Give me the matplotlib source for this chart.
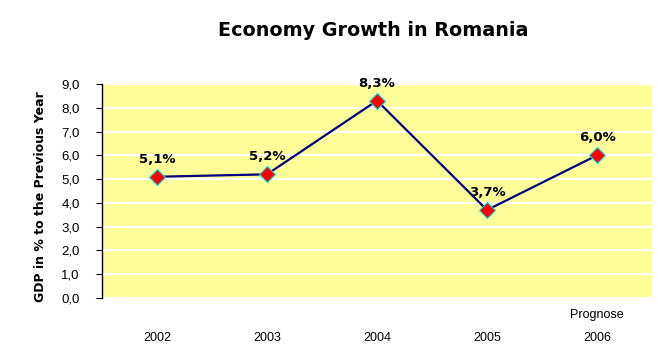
import matplotlib
matplotlib.use("Agg")
import matplotlib.pyplot as plt
from matplotlib.ticker import FuncFormatter

years = ["2002", "2003", "2004", "2005", "2006"]
growth = [5.1, 5.2, 8.3, 3.7, 6.0]
value_labels = ["5,1%", "5,2%", "8,3%", "3,7%", "6,0%"]
top_notes = ["", "", "", "", "Prognose"]
yticks = [0, 1, 2, 3, 4, 5, 6, 7, 8, 9]

fig = plt.figure(figsize=(6.58, 3.63), dpi=100)
ax = fig.add_axes([102/658, 1 - 298/363, 550/658, (298-84)/363])
ax.set_facecolor("#FFFF99")

x = list(range(len(years)))
ax.plot(x, growth, color="#000080", lw=1.6, zorder=3)
ax.plot(x, growth, linestyle="none", marker="D", markersize=8.5,
        markerfacecolor="#FF0000", markeredgecolor="#00E5E5", markeredgewidth=0.8, zorder=4)
for xi, v, lab in zip(x, growth, value_labels):
    ax.annotate(lab, (xi, v), xytext=(0, 8), textcoords="offset points",
                ha="center", va="bottom", fontsize=9.5, fontweight="bold",
                family="DejaVu Sans", color="black")

ax.set_xlim(-0.5, len(years) - 0.5)
ax.set_ylim(0, 9)
ax.set_yticks(yticks)
ax.yaxis.set_major_formatter(FuncFormatter(lambda v, p: f"{v:.1f}".replace(".", ",")))
ax.grid(axis="y", color="white", lw=1.5)
ax.set_axisbelow(True)

ax.set_xticks(x)
ax.set_xticklabels([f"{n}\n\n{y}" if n else f"\n\n{y}" for n, y in zip(top_notes, years)],
                   family="Liberation Sans", fontsize=9, linespacing=0.92)
ax.tick_params(axis="x", length=0, pad=8)
ax.tick_params(axis="y", length=4, direction="out", labelsize=9.5, pad=12)
for l in ax.get_yticklabels():
    l.set_family("Liberation Sans")

for s in ["top", "right", "bottom"]:
    ax.spines[s].set_visible(False)
ax.spines["left"].set_color("black")
ax.spines["left"].set_linewidth(1)

ax.set_ylabel("GDP in % to the Previous Year", fontsize=9, fontweight="bold",
              family="DejaVu Sans")
ax.yaxis.set_label_coords(-0.1, 0.475)

fig.text(373/658, 1 - 31/363, "Economy Growth in Romania", ha="center", va="center",
         fontsize=13.8, fontweight="bold", family="DejaVu Sans")

fig.savefig("out.png", dpi=100)
